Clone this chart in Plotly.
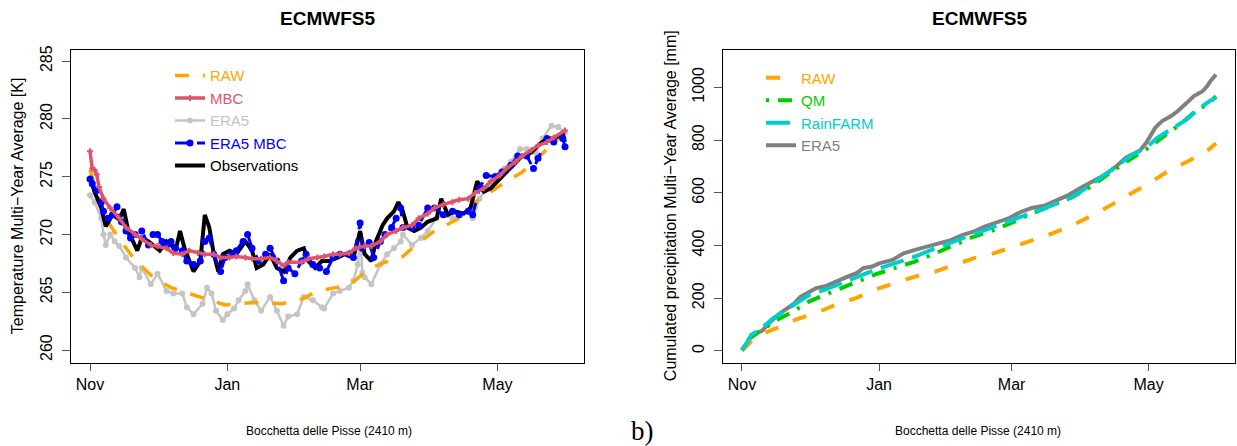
import pandas as pd
import plotly.graph_objects as go

# ---------------- data ----------------
START = "2000-11-01"          # day 0 of the Nov-May season
N_DAYS = 211                  # last day index (31 May)

# Left panel: temperature [K]
raw_t_days = [0, 6, 13, 20, 28, 36, 44, 53, 60, 66, 72, 80, 85, 94, 101, 109, 115, 120, 125, 131,
              139, 146, 153, 161, 168, 171, 178, 185, 192, 199, 206, 211]
raw_t_vals = [275.6, 271.7, 269.6, 267.8, 266.3, 265.4, 264.9, 264.3, 263.9, 264.0, 264.1, 264.1, 264.0,
              264.4, 265.1, 265.4, 265.6, 266.4, 267.1, 267.6, 268.1, 269.3, 270.3, 271.1, 271.8, 272.8,
              273.7, 274.6, 275.4, 276.6, 278.0, 278.7]

mbc_days = [0, 1, 2, 3, 4, 6, 9, 13, 16, 20, 23, 27, 30, 34, 37, 41, 44, 48, 51, 55, 58, 62, 65, 69, 72,
            76, 80, 83, 86, 88, 94, 97, 101, 104, 108, 111, 115, 118, 122, 125, 129, 132, 136, 139, 143,
            146, 150, 153, 157, 161, 164, 168, 171, 175, 178, 182, 185, 189, 192, 196, 199, 203, 206, 211]
mbc_vals = [277.2, 275.7, 275.6, 275.2, 274.1, 273.1, 272.3, 271.4, 270.6, 270.0, 269.6, 269.1, 269.0,
            268.8, 268.4, 268.3, 268.6, 268.4, 268.3, 268.3, 268.0, 268.0, 268.1, 268.0, 267.9, 267.9,
            268.0, 267.7, 267.3, 267.6, 267.6, 267.9, 268.0, 268.1, 268.3, 268.3, 268.4, 268.8, 269.0,
            269.0, 269.4, 270.0, 270.3, 270.6, 270.8, 271.4, 271.8, 272.3, 272.6, 272.8, 273.0, 273.1,
            273.6, 274.0, 274.6, 275.1, 275.7, 276.3, 276.8, 277.3, 277.7, 278.0, 278.4, 279.0]

era5_t_days = [0, 2, 5, 6, 7, 9, 11, 13, 16, 20, 22, 23, 27, 30, 34, 37, 41, 43, 46, 50, 52, 54, 56, 59,
               61, 64, 66, 69, 70, 73, 76, 80, 83, 86, 88, 92, 95, 99, 103, 104, 108, 111, 115, 117, 119,
               120, 121, 122, 125, 129, 132, 135, 138, 139, 143, 147, 150, 154, 157, 161, 164, 168, 170,
               173, 176, 180, 184, 187, 191, 194, 198, 201, 205, 208, 211]
era5_t_vals = [273.4, 272.8, 271.4, 270.0, 269.1, 270.0, 269.4, 269.0, 268.0, 267.1, 266.3, 267.1, 265.7,
               266.6, 265.1, 264.9, 264.9, 263.7, 263.1, 264.0, 265.4, 264.9, 263.4, 262.6, 263.1, 263.6,
               264.3, 265.1, 265.7, 264.3, 263.4, 264.6, 263.4, 262.1, 262.9, 263.1, 264.6, 264.3, 263.7,
               263.6, 264.9, 265.1, 265.4, 266.0, 267.4, 270.0, 266.7, 266.3, 265.7, 267.4, 268.3, 268.8,
               269.4, 270.0, 269.1, 269.7, 270.3, 271.4, 271.7, 271.4, 271.7, 272.0, 271.4, 273.1, 274.0,
               275.1, 275.7, 276.3, 277.4, 277.4, 277.1, 278.3, 279.4, 279.3, 278.8]

era5mbc_days = [0, 1, 3, 5, 6, 8, 10, 12, 14, 16, 18, 20, 23, 26, 28, 30, 32, 34, 36, 38, 41, 43, 46, 49,
                51, 53, 55, 58, 60, 63, 65, 68, 70, 72, 75, 78, 80, 83, 86, 88, 91, 94, 96, 99, 102, 105,
                108, 111, 115, 117, 120, 121, 124, 126, 129, 131, 134, 136, 138, 139, 143, 146, 150, 153,
                157, 161, 164, 168, 170, 173, 176, 180, 183, 187, 190, 194, 197, 199, 203, 206, 210, 211]
era5mbc_vals = [274.8, 274.4, 273.8, 272.8, 272.0, 271.4, 271.7, 272.4, 271.1, 270.3, 269.7, 270.0, 270.3,
                269.1, 270.0, 270.0, 269.4, 269.1, 269.4, 268.8, 268.6, 267.7, 267.4, 267.7, 269.4, 269.7,
                268.3, 266.8, 268.0, 268.3, 268.6, 269.4, 270.0, 268.8, 267.7, 268.3, 268.8, 267.7, 266.0,
                267.1, 266.6, 267.7, 268.3, 267.4, 267.1, 266.8, 268.0, 268.3, 268.3, 268.0, 271.0, 268.8,
                269.3, 268.0, 269.4, 270.0, 270.6, 271.4, 272.3, 270.6, 270.6, 270.8, 272.3, 272.3, 271.7,
                272.0, 271.7, 272.0, 271.7, 274.0, 275.1, 275.0, 275.4, 276.0, 276.8, 276.8, 275.7, 276.6,
                278.3, 278.0, 278.3, 277.6]

obs_days = [0, 2, 5, 7, 10, 13, 15, 17, 21, 23, 26, 28, 31, 34, 36, 38, 40, 42, 44, 46, 49, 51, 53, 55, 57,
            59, 62, 65, 69, 72, 74, 77, 80, 83, 86, 89, 92, 95, 97, 100, 103, 106, 110, 113, 117, 120, 122,
            125, 127, 130, 132, 135, 137, 139, 141, 144, 147, 150, 154, 156, 159, 162, 166, 169, 172, 175,
            178, 182, 185, 189, 192, 196, 199, 203, 206, 210, 211]
obs_vals = [275.0, 273.7, 272.3, 270.7, 271.7, 271.3, 272.2, 270.3, 268.6, 269.7, 269.4, 269.1, 268.6,
            269.4, 269.1, 268.6, 270.3, 268.8, 267.7, 266.8, 267.7, 271.7, 270.6, 268.3, 266.8, 268.3,
            268.6, 268.3, 269.4, 268.6, 267.1, 267.4, 268.3, 267.1, 266.8, 268.0, 268.6, 268.8, 267.7,
            267.1, 267.7, 267.7, 268.0, 268.3, 268.0, 270.3, 268.3, 267.7, 269.4, 270.8, 271.4, 272.0,
            272.8, 272.0, 270.6, 270.3, 270.6, 271.1, 271.4, 273.1, 271.7, 272.0, 271.8, 272.3, 274.6,
            273.7, 274.0, 274.8, 275.4, 276.3, 276.8, 277.1, 277.7, 278.3, 278.3, 278.7, 278.0]

# Right panel: cumulated precipitation [mm]
raw_p_days = [0, 4, 10, 16, 24, 33, 42, 51, 59, 68, 77, 86, 94, 103, 112, 121, 129, 138, 147, 156, 164,
              173, 182, 190, 199, 208, 211]
raw_p_vals = [0, 35, 68, 88, 119, 144, 176, 201, 232, 257, 282, 301, 326, 351, 370, 395, 420, 445, 477,
              514, 552, 596, 640, 684, 721, 765, 788]

qm_days = [0, 3, 8, 16, 23, 30, 37, 44, 51, 59, 68, 77, 86, 94, 103, 112, 121, 129, 138, 147, 156, 164,
           173, 180, 187, 194, 201, 208, 211]
qm_vals = [3, 45, 75, 119, 151, 188, 213, 238, 263, 289, 314, 339, 370, 401, 433, 458, 489, 521, 552, 583,
           627, 677, 728, 765, 809, 853, 903, 941, 966]

rainfarm_days = [0, 2, 4, 7, 10, 14, 20, 25, 30, 37, 44, 51, 59, 68, 77, 86, 94, 103, 112, 121, 129, 138,
                 147, 156, 164, 173, 180, 185, 191, 198, 203, 208, 211]
rainfarm_vals = [3, 26, 60, 75, 95, 124, 158, 185, 213, 232, 257, 282, 307, 332, 358, 389, 414, 439, 471,
                 496, 521, 552, 583, 634, 684, 740, 772, 809, 841, 878, 916, 947, 960]

era5_p_days = [0, 2, 4, 7, 9, 12, 15, 17, 20, 23, 26, 30, 33, 37, 40, 44, 47, 51, 54, 58, 61, 67, 72, 77,
               82, 87, 93, 98, 103, 108, 114, 119, 124, 129, 135, 140, 145, 150, 156, 161, 166, 171, 177,
               180, 184, 187, 191, 194, 198, 201, 205, 207, 209, 211]
era5_p_vals = [3, 30, 55, 70, 76, 105, 130, 143, 160, 178, 205, 226, 238, 245, 257, 270, 282, 295, 314,
               320, 332, 345, 370, 383, 395, 408, 420, 439, 452, 471, 489, 504, 527, 542, 552, 571, 590,
               615, 640, 665, 696, 734, 759, 790, 847, 872, 891, 910, 941, 966, 985, 1004, 1029, 1048]

month_ticks = ["2000-11-01", "2001-01-01", "2001-03-01", "2001-05-01"]
month_labels = ["Nov", "Jan", "Mar", "May"]
temp_ticks = [260, 265, 270, 275, 280, 285]
prec_ticks = [0, 200, 400, 600, 800, 1000]

# ---------------- figure ----------------
t0 = pd.Timestamp(START)


def dates(days):
    return t0 + pd.to_timedelta(days, unit="D")


def lbl(text, color):
    return f'<span style="color:{color}">{text}</span>'


C_RAW = "#FFA500"
C_MBC = "#DF536B"
C_ERA5L = "#C4C4C4"
C_BLUE = "#0000FF"
C_QM = "#00CD00"
C_RF = "#00CDCD"
C_ERA5R = "#808080"

fig = go.Figure()

# left panel (drawing order chosen for overlap), legendrank gives legend order
fig.add_trace(go.Scatter(x=dates(era5_t_days), y=era5_t_vals, name=lbl("ERA5", C_ERA5L), legendrank=3,
                         mode="lines+markers", line=dict(color=C_ERA5L, width=2.5),
                         marker=dict(color=C_ERA5L, size=6), legend="legend", xaxis="x", yaxis="y"))
fig.add_trace(go.Scatter(x=dates(raw_t_days), y=raw_t_vals, name=lbl("RAW", C_RAW), legendrank=1,
                         mode="lines", line=dict(color=C_RAW, width=3.5, dash="14px,14px"),
                         legend="legend", xaxis="x", yaxis="y"))
fig.add_trace(go.Scatter(x=dates(obs_days), y=obs_vals, name=lbl("Observations", "#000000"), legendrank=5,
                         mode="lines", line=dict(color="#000000", width=4),
                         legend="legend", xaxis="x", yaxis="y"))
fig.add_trace(go.Scatter(x=dates(era5mbc_days), y=era5mbc_vals, name=lbl("ERA5 MBC", C_BLUE), legendrank=4,
                         mode="lines+markers", line=dict(color=C_BLUE, width=3, dash="12px,10px"),
                         marker=dict(color=C_BLUE, size=7), legend="legend", xaxis="x", yaxis="y"))
fig.add_trace(go.Scatter(x=dates(mbc_days), y=mbc_vals, name=lbl("MBC", C_MBC), legendrank=2,
                         mode="lines+markers", line=dict(color=C_MBC, width=3.5),
                         marker=dict(color=C_MBC, size=5, symbol="cross"),
                         legend="legend", xaxis="x", yaxis="y"))

# right panel
fig.add_trace(go.Scatter(x=dates(era5_p_days), y=era5_p_vals, name=lbl("ERA5", C_ERA5R), legendrank=4,
                         mode="lines", line=dict(color=C_ERA5R, width=4),
                         legend="legend2", xaxis="x2", yaxis="y2"))
fig.add_trace(go.Scatter(x=dates(raw_p_days), y=raw_p_vals, name=lbl("RAW", C_RAW), legendrank=1,
                         mode="lines", line=dict(color=C_RAW, width=4, dash="14px,16px"),
                         legend="legend2", xaxis="x2", yaxis="y2"))
fig.add_trace(go.Scatter(x=dates(qm_days), y=qm_vals, name=lbl("QM", C_QM), legendrank=2,
                         mode="lines", line=dict(color=C_QM, width=4, dash="3px,9px,14px,9px"),
                         legend="legend2", xaxis="x2", yaxis="y2"))
fig.add_trace(go.Scatter(x=dates(rainfarm_days), y=rainfarm_vals, name=lbl("RainFARM", C_RF), legendrank=3,
                         mode="lines", line=dict(color=C_RF, width=4, dash="24px,9px"),
                         legend="legend2", xaxis="x2", yaxis="y2"))

pad = pd.Timedelta(hours=0.04 * N_DAYS * 24)
xrange_ = [t0 - pad, t0 + pd.Timedelta(days=N_DAYS) + pad]

FONT = "Liberation Sans, Arial, Helvetica, sans-serif"
common_x = dict(range=xrange_, tickvals=month_ticks, ticktext=month_labels, ticks="outside", ticklen=7,
                tickcolor="#555555", showgrid=False, zeroline=False, showline=True, mirror=True,
                linecolor="#000000", linewidth=1, tickfont=dict(size=16, color="#000000"))
common_y = dict(ticks="outside", ticklen=8, tickcolor="#555555", showgrid=False, zeroline=False,
                showline=True, mirror=True, linecolor="#000000", linewidth=1, tickangle=-90,
                tickfont=dict(size=16, color="#000000"), ticklabelstandoff=4)

ydom = [(446 - 362) / 446, (446 - 46) / 446]

fig.update_layout(
    width=1237, height=446, margin=dict(l=0, r=0, t=0, b=0),
    paper_bgcolor="white", plot_bgcolor="white",
    font=dict(family=FONT, color="#000000"),
    xaxis=dict(domain=[71 / 1237, 584 / 1237], anchor="y", **common_x),
    yaxis=dict(domain=ydom, anchor="x", range=[258.9, 286.0], tickvals=temp_ticks, **common_y),
    xaxis2=dict(domain=[723 / 1237, 1235 / 1237], anchor="y2", **common_x),
    yaxis2=dict(domain=ydom, anchor="x2", range=[-45, 1143], tickvals=prec_ticks, **common_y),
    legend=dict(x=170 / 1237, y=1 - 55.75 / 446, xanchor="left", yanchor="top", bgcolor="rgba(0,0,0,0)",
                font=dict(size=15), tracegroupgap=0),
    legend2=dict(x=761 / 1237, y=1 - 58 / 446, xanchor="left", yanchor="top", bgcolor="rgba(0,0,0,0)",
                 font=dict(size=15), tracegroupgap=0),
    showlegend=True,
)

ann = [
    dict(text="<b>ECMWFS5</b>", x=327 / 1237, y=1 - 15 / 446, font=dict(size=19)),
    dict(text="<b>ECMWFS5</b>", x=979 / 1237, y=1 - 15 / 446, font=dict(size=19)),
    dict(text="Temperature Multi\u2212Year Average [K]", x=17 / 1237, y=1 - 204 / 446, textangle=-90,
         font=dict(size=16)),
    dict(text="Cumulated precipitation Multi\u2212Year Average [mm]", x=670 / 1237, y=1 - 204 / 446,
         textangle=-90, font=dict(size=16)),
    dict(text="Bocchetta delle Pisse (2410 m)", x=329 / 1237, y=1 - 431 / 446, font=dict(size=12)),
    dict(text="Bocchetta delle Pisse (2410 m)", x=978 / 1237, y=1 - 431 / 446, font=dict(size=12)),
    dict(text="b)", x=642 / 1237, y=1 - 431 / 446, font=dict(size=27, family="Liberation Serif, DejaVu Serif, serif")),
]
for a in ann:
    a.update(xref="paper", yref="paper", showarrow=False, xanchor="center", yanchor="middle")
    fig.add_annotation(**a)

fig.write_html("out.html", config={"displayModeBar": False},
               post_script="document.body.style.margin='0';document.body.style.overflow='hidden';")
